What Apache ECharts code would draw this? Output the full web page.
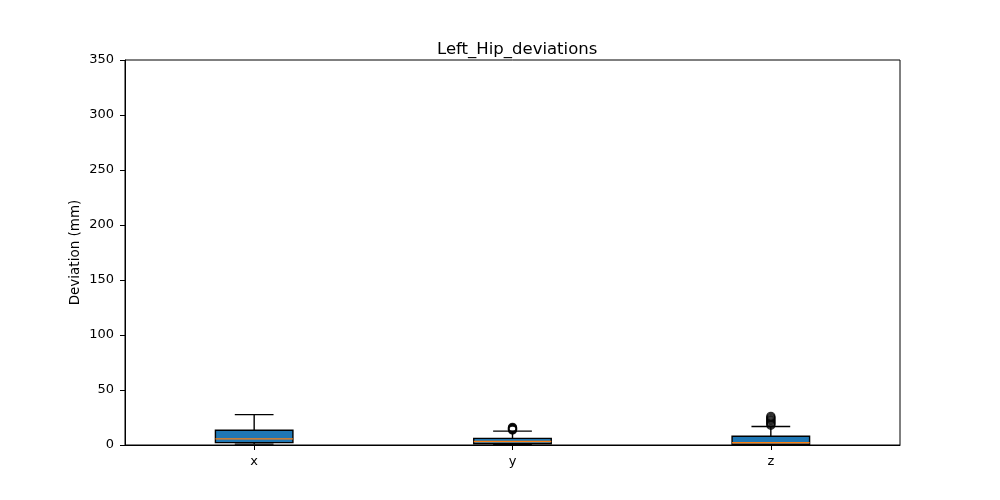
<!DOCTYPE html>
<html>
<head>
<meta charset="utf-8">
<script src="https://cdn.jsdelivr.net/npm/echarts@6/dist/echarts.min.js"></script>
<style>html,body{margin:0;padding:0;background:#fff}#chart{width:1000px;height:500px}</style>
</head>
<body>
<div id="chart"></div>
<script>
const categories = ['x', 'y', 'z'];
const mins = [0.8, 0.3, 0.1];
const q1s = [2.2, 1.2, 0.6];
const medians = [5.6, 3.2, 2.0];
const q3s = [13.4, 6.0, 8.0];
const maxs = [27.6, 12.6, 16.8];
const outliersY = [13.6, 14.0, 14.5, 15.0, 15.5, 16.0];
const outliersZ = [18.0, 19.0, 20.0, 21.0, 22.0, 23.0, 24.0, 25.0, 26.0];
const yTicks = [0, 50, 100, 150, 200, 250, 300, 350];

const boxData = categories.map((c, i) => [i, mins[i], q1s[i], medians[i], q3s[i], maxs[i]]);
const outlierData = [];
outliersY.forEach(v => outlierData.push([1, v]));
outliersZ.forEach(v => outlierData.push([2, v]));

const chart = echarts.init(document.getElementById('chart'));
const font = 'DejaVu Sans';
chart.setOption({
  animation: false,
  title: {
    text: 'Left_Hip_deviations', left: 432, top: 36,
    textStyle: {fontFamily: font, fontSize: 16.5, fontWeight: 'normal', color: '#000'}
  },
  grid: {left: 125, right: 100, top: 60, bottom: 55, show: true, borderColor: '#000', borderWidth: 1, backgroundColor: 'transparent'},
  xAxis: {
    type: 'category', data: categories, boundaryGap: true,
    axisLine: {show: true, lineStyle: {color: '#000', width: 1}},
    axisTick: {show: true, alignWithLabel: true, length: 5, lineStyle: {color: '#000'}},
    axisLabel: {fontFamily: font, fontSize: 13, color: '#000', margin: 10},
    splitLine: {show: false}
  },
  yAxis: {
    type: 'value', min: yTicks[0], max: yTicks[yTicks.length - 1], interval: 50,
    name: 'Deviation (mm)', nameLocation: 'middle', nameGap: 43, nameMoveOverlap: false,
    nameTextStyle: {fontFamily: font, fontSize: 13.5, color: '#000'},
    axisLine: {show: true, lineStyle: {color: '#000', width: 1}},
    axisTick: {show: true, length: 5, lineStyle: {color: '#000'}},
    axisLabel: {fontFamily: font, fontSize: 13, color: '#000', margin: 11},
    splitLine: {show: false}
  },
  series: [
    {
      type: 'custom',
      data: boxData,
      encode: {x: 0, y: [1, 2, 3, 4, 5]},
      renderItem: function (params, api) {
        const idx = api.value(0);
        const band = api.size([1, 0])[0];
        const bw = band * 0.3;
        const cw = bw / 2;
        const pMin = api.coord([idx, api.value(1)]);
        const pQ1 = api.coord([idx, api.value(2)]);
        const pMed = api.coord([idx, api.value(3)]);
        const pQ3 = api.coord([idx, api.value(4)]);
        const pMax = api.coord([idx, api.value(5)]);
        const cx = pMed[0];
        const ls = {stroke: '#000', lineWidth: 1.4};
        return {
          type: 'group',
          children: [
            {type: 'line', shape: {x1: cx, y1: pQ1[1], x2: cx, y2: pMin[1]}, style: ls},
            {type: 'line', shape: {x1: cx, y1: pQ3[1], x2: cx, y2: pMax[1]}, style: ls},
            {type: 'line', shape: {x1: cx - cw / 2, y1: pMin[1], x2: cx + cw / 2, y2: pMin[1]}, style: ls},
            {type: 'line', shape: {x1: cx - cw / 2, y1: pMax[1], x2: cx + cw / 2, y2: pMax[1]}, style: ls},
            {type: 'rect', shape: {x: cx - bw / 2, y: pQ3[1], width: bw, height: pQ1[1] - pQ3[1]},
              style: {fill: '#1f77b4', stroke: '#000', lineWidth: 1.4}},
            {type: 'line', shape: {x1: cx - bw / 2, y1: pMed[1], x2: cx + bw / 2, y2: pMed[1]},
              style: {stroke: '#ff7f0e', lineWidth: 1.4}}
          ]
        };
      }
    },
    {
      type: 'scatter',
      data: outlierData,
      symbol: 'circle',
      symbolSize: 8,
      itemStyle: {color: 'rgba(0,0,0,0)', borderColor: '#000', borderWidth: 1.4},
      z: 3
    }
  ]
});
</script>
</body>
</html>
